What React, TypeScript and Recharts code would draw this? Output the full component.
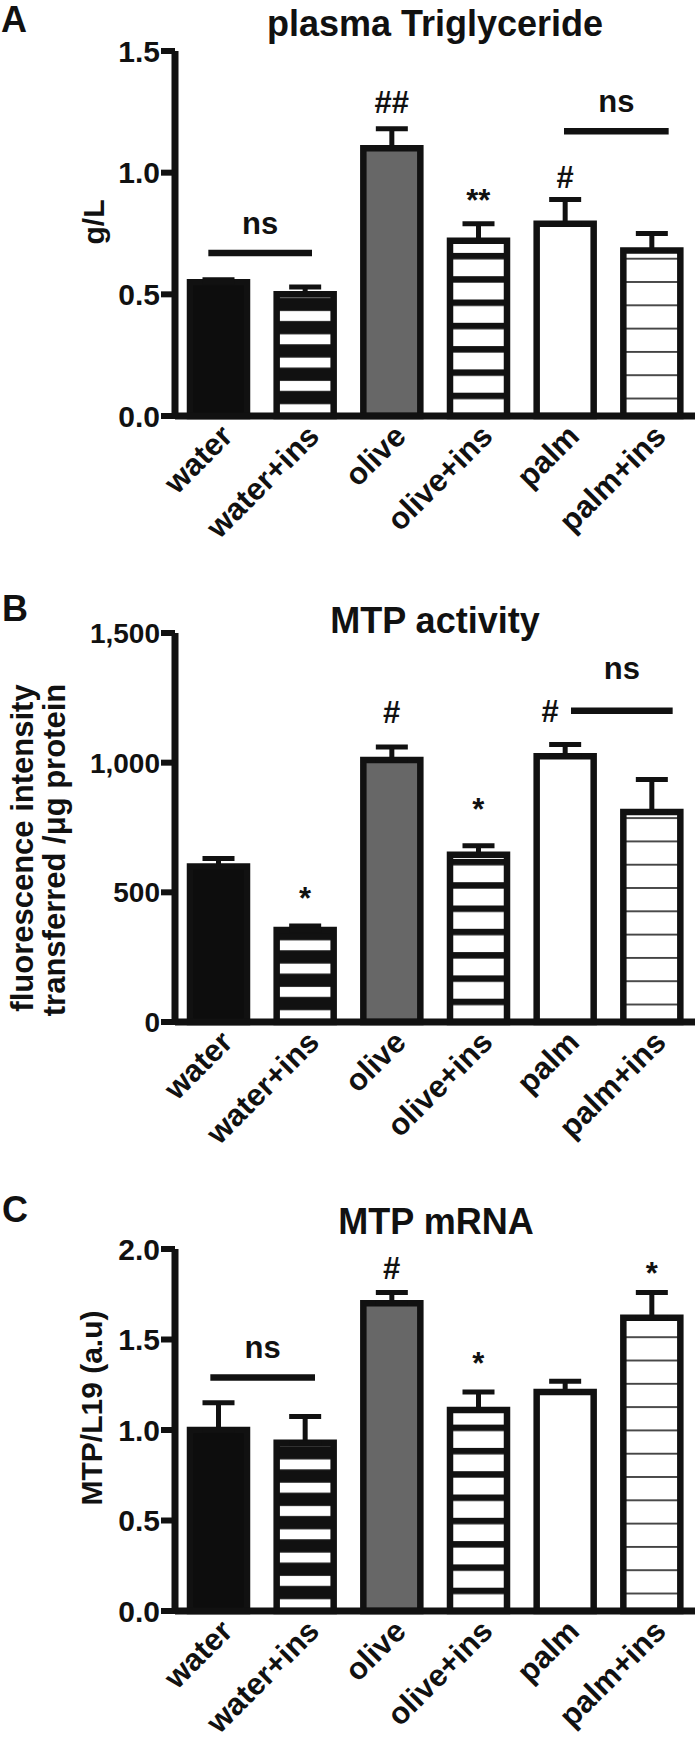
import React from "react";
import {
  BarChart,
  Bar,
  XAxis,
  YAxis,
  Cell,
  ErrorBar,
  ReferenceLine,
  ReferenceDot,
} from "recharts";

const groups = ["water", "water+ins", "olive", "olive+ins", "palm", "palm+ins"];

// A - plasma triglyceride, g/L
const tgMean = [0.55, 0.5, 1.1, 0.72, 0.79, 0.68];
const tgSem = [0.01, 0.03, 0.08, 0.07, 0.1, 0.07];
const tgTicks = [0, 0.5, 1.0, 1.5];
const tgMarks = [
  { at: "olive", y: 1.29, text: "##" },
  { at: "olive+ins", y: 0.884, text: "**" },
  { at: "palm", y: 0.982, text: "#" },
];
const tgNs = [
  { from: "water", to: "water+ins", y: 0.67 },
  { from: "palm", to: "palm+ins", y: 1.17 },
];

// B - MTP activity
const actMean = [600, 355, 1010, 645, 1025, 810];
const actSem = [30, 15, 50, 35, 45, 125];
const actTicks = [0, 500, 1000, 1500];
const actMarks = [
  { at: "water+ins", y: 478, text: "*" },
  { at: "olive", y: 1192, text: "#" },
  { at: "olive+ins", y: 821, text: "*" },
  { at: "palm", y: 1196, text: "#" },
];
const actNs = [{ from: "palm", to: "palm+ins", y: 1200 }];

// C - MTP mRNA, MTP/L19
const mrnaMean = [1.0, 0.93, 1.7, 1.11, 1.21, 1.62];
const mrnaSem = [0.15, 0.145, 0.06, 0.1, 0.06, 0.14];
const mrnaTicks = [0, 0.5, 1.0, 1.5, 2.0];
const mrnaMarks = [
  { at: "olive", y: 1.895, text: "#" },
  { at: "olive+ins", y: 1.365, text: "*" },
  { at: "palm+ins", y: 1.862, text: "*" },
];
const mrnaNs = [{ from: "water", to: "water+ins", y: 1.29 }];

const FONT = "'Liberation Sans', Arial, Helvetica, sans-serif";
const INK = "#111";
const PERIOD = 23.3;

const dec1 = (v: number) => v.toFixed(1);
const thousands = (v: number) => v.toLocaleString("en-US");

const toRows = (mean: number[], sem: number[]) =>
  groups.map((g, i) => ({ name: g, mean: mean[i], err: [0, sem[i]] }));

const GroupTick = (props: any) => {
  const { x, y, payload } = props;
  const ax = x + 16;
  const ay = y + 22;
  return (
    <text
      x={ax}
      y={ay}
      transform={`rotate(-45 ${ax} ${ay})`}
      textAnchor="end"
      fill={INK}
      style={{ fontFamily: FONT, fontWeight: 700, fontSize: 31 }}
    >
      {payload.value}
    </text>
  );
};

type PanelProps = {
  id: string;
  top: number;
  height: number;
  marginTop: number;
  plotH: number;
  mean: number[];
  sem: number[];
  ticks: number[];
  fmt: (v: number) => string;
  tickFont: number;
  marks: { at: string; y: number; text: string }[];
  ns: { from: string; to: string; y: number }[];
  nsPad: [number, number, number][]; // left ext, right ext, text lift
  markDx?: Record<string, number>;
};

function Panel(p: PanelProps) {
  const rows = toRows(p.mean, p.sem);
  const base = p.marginTop + p.plotH;
  const fills = ["#0d0d0d", `url(#wi-${p.id})`, "#676767", `url(#oi-${p.id})`, "#ffffff", `url(#pi-${p.id})`];
  const textStyle = { fontFamily: FONT, fontWeight: 700, fontSize: 31 };

  return (
    <div style={{ position: "absolute", left: 0, top: p.top }}>
      <BarChart
        width={700}
        height={p.height}
        data={rows}
        margin={{ top: p.marginTop, right: 5, left: 0, bottom: p.height - p.marginTop - p.plotH - 120 }}
      >
        <defs>
          <pattern id={`wi-${p.id}`} patternUnits="userSpaceOnUse" x={0} y={base} width={700} height={PERIOD}>
            <rect width={700} height={PERIOD} fill="#ffffff" />
            <rect width={700} height={11.5} fill={INK} />
            <rect y={21.5} width={700} height={PERIOD - 21.5} fill={INK} />
          </pattern>
          <pattern id={`oi-${p.id}`} patternUnits="userSpaceOnUse" x={0} y={base} width={700} height={PERIOD}>
            <rect width={700} height={PERIOD} fill="#ffffff" />
            <rect width={700} height={6.5} fill={INK} />
          </pattern>
          <pattern id={`pi-${p.id}`} patternUnits="userSpaceOnUse" x={0} y={base} width={700} height={PERIOD}>
            <rect width={700} height={PERIOD} fill="#ffffff" />
            <rect y={5} width={700} height={1.6} fill="#222" />
          </pattern>
        </defs>
        <XAxis
          dataKey="name"
          type="category"
          interval={0}
          height={120}
          tickLine={false}
          tickSize={0}
          tickMargin={0}
          axisLine={{ stroke: INK, strokeWidth: 7 }}
          tick={<GroupTick />}
        />
        <YAxis
          width={175}
          type="number"
          domain={[0, p.ticks[p.ticks.length - 1]]}
          ticks={p.ticks}
          tickFormatter={p.fmt}
          interval={0}
          tickSize={14}
          tickMargin={1}
          axisLine={{ stroke: INK, strokeWidth: 7 }}
          tickLine={{ stroke: INK, strokeWidth: 6 }}
          tick={{ fill: INK, fontFamily: FONT, fontWeight: 700, fontSize: p.tickFont }}
        />
        <Bar dataKey="mean" barSize={57} stroke={INK} strokeWidth={6.5} isAnimationActive={false}>
          {rows.map((r, i) => (
            <Cell key={r.name} fill={fills[i]} />
          ))}
          <ErrorBar
            dataKey="err"
            direction="y"
            width={16}
            stroke={INK}
            strokeWidth={5}
            isAnimationActive={false}
          />
        </Bar>
        {p.ns.map((n, i) => {
          const [l, r, lift] = p.nsPad[i];
          return (
            <ReferenceLine
              key={`ns-${i}`}
              segment={[
                { x: n.from, y: n.y },
                { x: n.to, y: n.y },
              ]}
              ifOverflow="visible"
              shape={(s: any) => {
                const x1 = Math.min(s.x1, s.x2) - l;
                const x2 = Math.max(s.x1, s.x2) + r;
                return (
                  <g>
                    <line x1={x1} y1={s.y1} x2={x2} y2={s.y2} stroke={INK} strokeWidth={6.5} />
                    <text x={(x1 + x2) / 2} y={s.y1 - lift} textAnchor="middle" fill={INK} style={textStyle}>
                      ns
                    </text>
                  </g>
                );
              }}
            />
          );
        })}
        {p.marks.map((m, i) => (
          <ReferenceDot
            key={`mk-${i}`}
            x={m.at}
            y={m.y}
            r={1}
            ifOverflow="visible"
            shape={(s: any) => (
              <text
                x={s.cx + (p.markDx?.[`${m.at}${m.text}`] ?? 0)}
                y={s.cy}
                textAnchor="middle"
                dominantBaseline="central"
                fill={INK}
                style={textStyle}
              >
                {m.text}
              </text>
            )}
          />
        ))}
      </BarChart>
    </div>
  );
}

export default function App() {
  const big = { fontFamily: FONT, fontWeight: 700, fill: INK };
  return (
    <div style={{ position: "absolute", left: 0, top: 0, width: 700, height: 1740, background: "#fff" }}>
      <Panel
        id="a"
        top={0}
        height={560}
        marginTop={51}
        plotH={365}
        mean={tgMean}
        sem={tgSem}
        ticks={tgTicks}
        fmt={dec1}
        tickFont={30}
        marks={tgMarks}
        ns={tgNs}
        nsPad={[
          [10, 7, 19],
          [1, 17, 19],
        ]}
      />
      <Panel
        id="b"
        top={560}
        height={600}
        marginTop={73}
        plotH={389}
        mean={actMean}
        sem={actSem}
        ticks={actTicks}
        fmt={thousands}
        tickFont={28}
        marks={actMarks}
        ns={actNs}
        nsPad={[[-6, 21, 32]]}
        markDx={{ "palm#": -15 }}
      />
      <Panel
        id="c"
        top={1160}
        height={580}
        marginTop={89}
        plotH={362}
        mean={mrnaMean}
        sem={mrnaSem}
        ticks={mrnaTicks}
        fmt={dec1}
        tickFont={30}
        marks={mrnaMarks}
        ns={mrnaNs}
        nsPad={[[8, 10, 20]]}
      />
      <svg
        width={700}
        height={1740}
        style={{ position: "absolute", left: 0, top: 0, pointerEvents: "none" }}
      >
        <text x={1} y={32} style={{ ...big, fontSize: 36 }}>A</text>
        <text x={2} y={621} style={{ ...big, fontSize: 36 }}>B</text>
        <text x={2} y={1222} style={{ ...big, fontSize: 36 }}>C</text>

        <text x={435} y={36} textAnchor="middle" style={{ ...big, fontSize: 36 }}>plasma Triglyceride</text>
        <text x={435} y={633} textAnchor="middle" style={{ ...big, fontSize: 36 }}>MTP activity</text>
        <text x={436} y={1234} textAnchor="middle" style={{ ...big, fontSize: 36 }}>MTP mRNA</text>

        <text x={93} y={222} transform="rotate(-90 93 222)" textAnchor="middle" dominantBaseline="central" style={{ ...big, fontSize: 30 }}>
          g/L
        </text>
        <text x={22} y={848} transform="rotate(-90 22 848)" textAnchor="middle" dominantBaseline="central" style={{ ...big, fontSize: 31 }}>
          fluorescence intensity
        </text>
        <text x={54} y={850} transform="rotate(-90 54 850)" textAnchor="middle" dominantBaseline="central" style={{ ...big, fontSize: 31 }}>
          transferred /μg protein
        </text>
        <text x={91} y={1408} transform="rotate(-90 91 1408)" textAnchor="middle" dominantBaseline="central" style={{ ...big, fontSize: 30 }}>
          MTP/L19 (a.u)
        </text>
      </svg>
    </div>
  );
}
